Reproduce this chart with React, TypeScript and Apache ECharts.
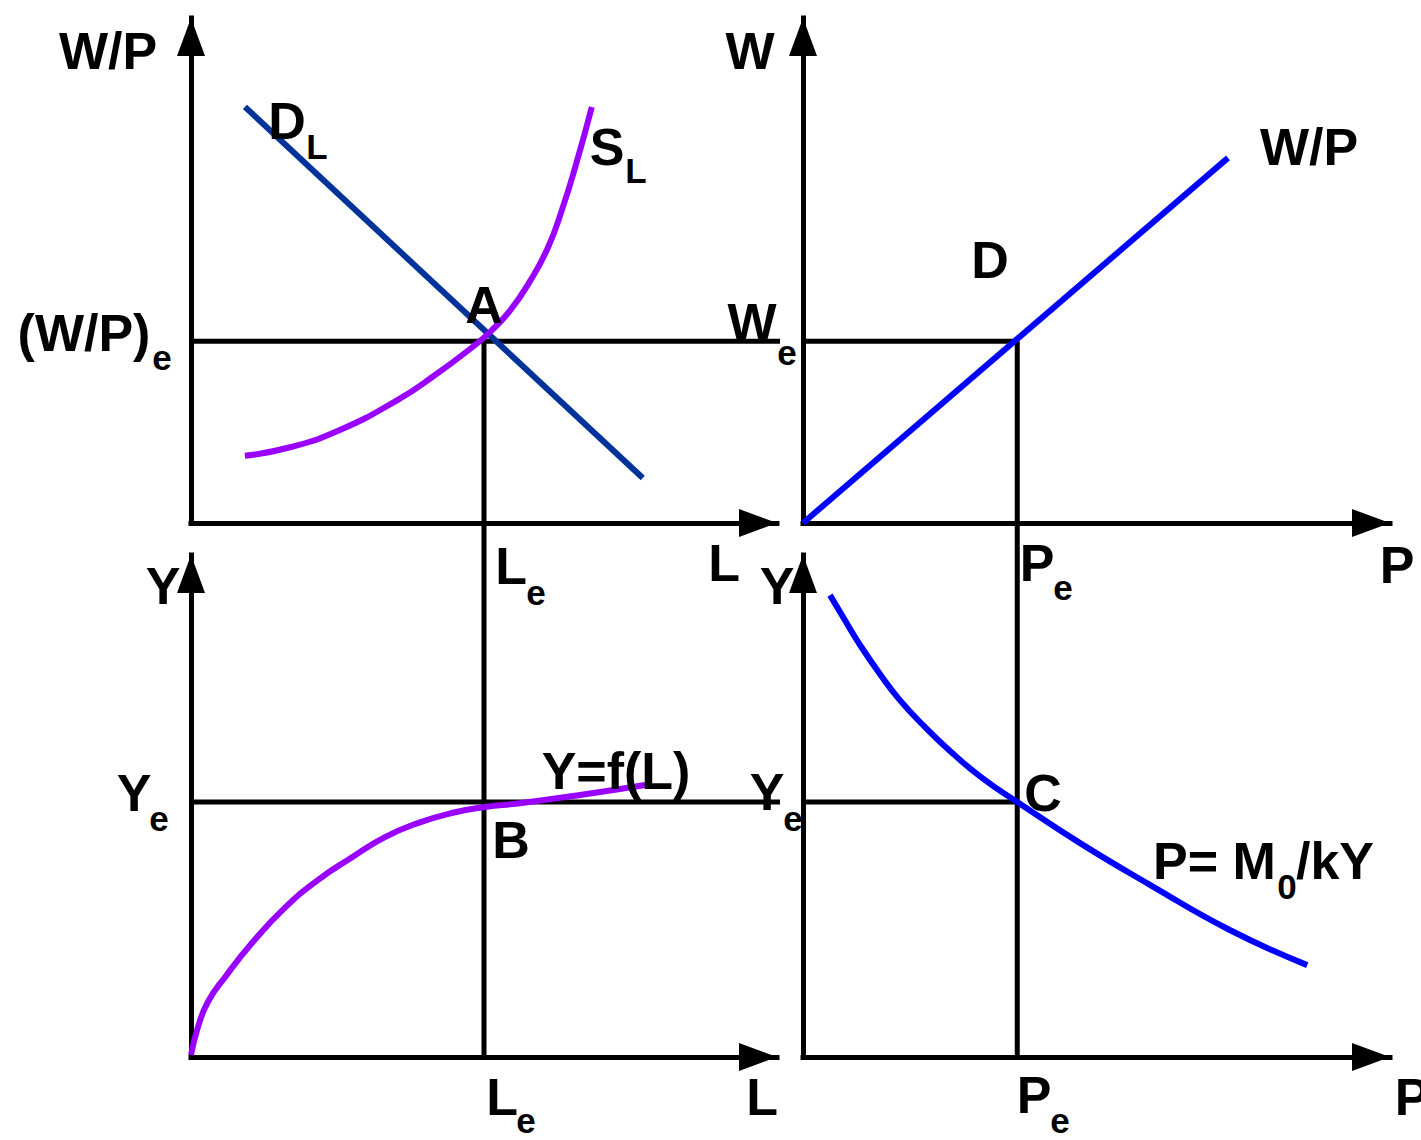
import React, { useEffect, useRef } from "react";
import * as echarts from "echarts";

// Panel 0: labour market (W/P vs L); Panel 1: W vs P; Panel 2: Y vs L; Panel 3: Y vs P
const LE = 5.0; // equilibrium labour
const WPE = 3.6; // equilibrium real wage
const WE = 3.6; // equilibrium nominal wage
const PE = 3.65; // equilibrium price level
const YE = 5.08; // equilibrium output
const X_GAP_END = 10.44; // guide lines extend across the gap between panels
const Y_GAP_END = 10.64;

const demandL: number[][] = [
  [0.92, 8.24],
  [7.71, 0.89],
];
const supplyL: number[][] = [
  [0.92, 1.33],
  [1.69, 1.5],
  [2.54, 1.84],
  [3.53, 2.44],
  [4.13, 2.9],
  [4.81, 3.49],
  [5.1, 3.78],
  [5.44, 4.2],
  [5.78, 4.78],
  [6.09, 5.45],
  [6.33, 6.2],
  [6.57, 7.1],
  [6.84, 8.24],
];
const wpLine: number[][] = [
  [0, 0],
  [7.24, 7.23],
];
const prodFn: number[][] = [
  [0, 0.04],
  [0.12, 0.6],
  [0.29, 1.1],
  [0.58, 1.59],
  [1.04, 2.27],
  [1.6, 2.97],
  [2.17, 3.53],
  [2.75, 3.98],
  [3.31, 4.38],
  [3.87, 4.66],
  [4.45, 4.86],
  [5.02, 4.98],
  [5.58, 5.05],
  [6.64, 5.22],
  [7.75, 5.42],
];
const adCurve: number[][] = [
  [0.46, 9.2],
  [0.72, 8.69],
  [0.97, 8.21],
  [1.31, 7.63],
  [1.65, 7.11],
  [2.08, 6.57],
  [2.5, 6.1],
  [3.05, 5.56],
  [3.65, 5.08],
  [4.72, 4.26],
  [5.91, 3.43],
  [7.27, 2.53],
  [8.59, 1.83],
];

type Lbl = { t: string; x: number; y: number; s: number; a?: string };
const labels: Lbl[] = [
  { t: "W/P", x: 108, y: 51, s: 52 },
  { t: "D", x: 287, y: 121, s: 52 },
  { t: "L", x: 317, y: 146, s: 35 },
  { t: "S", x: 607, y: 147, s: 52 },
  { t: "L", x: 636, y: 170, s: 35 },
  { t: "(W/P)", x: 84, y: 333, s: 52 },
  { t: "e", x: 162, y: 357, s: 35 },
  { t: "A", x: 484, y: 305, s: 52 },
  { t: "W", x: 750, y: 51, s: 52 },
  { t: "W/P", x: 1309, y: 147, s: 52 },
  { t: "D", x: 990, y: 260, s: 52 },
  { t: "W", x: 752, y: 322, s: 52 },
  { t: "e", x: 787, y: 352, s: 35 },
  { t: "L", x: 511, y: 566, s: 52 },
  { t: "e", x: 536, y: 592, s: 35 },
  { t: "L", x: 724, y: 563, s: 52 },
  { t: "Y", x: 163, y: 586, s: 52 },
  { t: "Y", x: 777, y: 586, s: 52 },
  { t: "P", x: 1037, y: 563, s: 52 },
  { t: "e", x: 1063, y: 587, s: 35 },
  { t: "P", x: 1397, y: 565, s: 52 },
  { t: "Y", x: 134, y: 793, s: 52 },
  { t: "e", x: 159, y: 818, s: 35 },
  { t: "Y=f(L)", x: 616, y: 771, s: 52 },
  { t: "Y", x: 767, y: 792, s: 52 },
  { t: "e", x: 793, y: 818, s: 35 },
  { t: "B", x: 511, y: 840, s: 52 },
  { t: "C", x: 1043, y: 793, s: 52 },
  { t: "P= M", x: 1153, y: 861, s: 52, a: "left" },
  { t: "0", x: 1287, y: 886, s: 35 },
  { t: "/kY", x: 1296, y: 861, s: 52, a: "left" },
  { t: "L", x: 502, y: 1097, s: 52 },
  { t: "e", x: 526, y: 1120, s: 35 },
  { t: "L", x: 762, y: 1097, s: 52 },
  { t: "P", x: 1034, y: 1095, s: 52 },
  { t: "e", x: 1060, y: 1120, s: 35 },
  { t: "P", x: 1412, y: 1097, s: 52 },
];

const FONT = '"Liberation Sans", Arial, Helvetica, sans-serif';

export default function App() {
  const ref = useRef<HTMLDivElement>(null);
  useEffect(() => {
    if (!ref.current) return;
    const chart = echarts.init(ref.current, null, { renderer: "svg" });
    const axisLine = {
      show: true,
      symbol: ["none", "triangle"],
      symbolSize: [28, 38],
      symbolOffset: [0, -19],
      lineStyle: { color: "#000", width: 5, cap: "square" },
    };
    const mkAxis = (i: number) => ({
      type: "value",
      gridIndex: i,
      min: 0,
      max: 10,
      axisLine,
      axisTick: { show: false },
      axisLabel: { show: false },
      splitLine: { show: false },
    });
    const line = (
      i: number,
      data: number[][],
      color: string,
      width: number,
      smooth: boolean | number = false
    ) => ({
      type: "line",
      xAxisIndex: i,
      yAxisIndex: i,
      data,
      smooth,
      clip: false,
      symbol: "none",
      showSymbol: false,
      silent: true,
      lineStyle: { color, width, cap: "butt", join: "round" },
      z: color === "#000" ? 2 : 3,
    });
    const black = "#000";
    chart.setOption({
      animation: false,
      grid: [
        { left: 191, top: 18, width: 586, height: 505 },
        { left: 803, top: 18, width: 587, height: 505 },
        { left: 191, top: 555, width: 586, height: 502 },
        { left: 803, top: 555, width: 587, height: 502 },
      ],
      xAxis: [0, 1, 2, 3].map(mkAxis),
      yAxis: [0, 1, 2, 3].map(mkAxis),
      series: [
        // guide lines
        line(0, [[0, WPE], [X_GAP_END, WPE]], black, 5),
        line(0, [[LE, WPE], [LE, 0]], black, 5),
        line(1, [[0, WE], [PE, WE]], black, 5),
        line(1, [[PE, WE], [PE, 0]], black, 5),
        line(2, [[LE, Y_GAP_END], [LE, 0]], black, 5),
        line(2, [[0, YE], [X_GAP_END, YE]], black, 5),
        line(3, [[PE, Y_GAP_END], [PE, 0]], black, 5),
        line(3, [[0, YE], [PE, YE]], black, 5),
        // curves
        line(0, demandL, "#003399", 6),
        line(0, supplyL, "#9900FF", 6, 0.5),
        line(1, wpLine, "#0000FF", 6),
        line(2, prodFn, "#9900FF", 6, 0.5),
        line(3, adCurve, "#0000FF", 6, 0.5),
      ],
      graphic: labels.map((l) => ({
        type: "text",
        x: l.x,
        y: l.y,
        z: 100,
        style: {
          text: l.t,
          fill: "#000",
          font: `bold ${l.s}px ${FONT}`,
          align: l.a || "center",
          verticalAlign: "middle",
        },
      })),
    });
    return () => chart.dispose();
  }, []);
  return (
    <div
      ref={ref}
      style={{ position: "absolute", left: 0, top: 0, width: 1421, height: 1140, background: "#fff" }}
    />
  );
}
